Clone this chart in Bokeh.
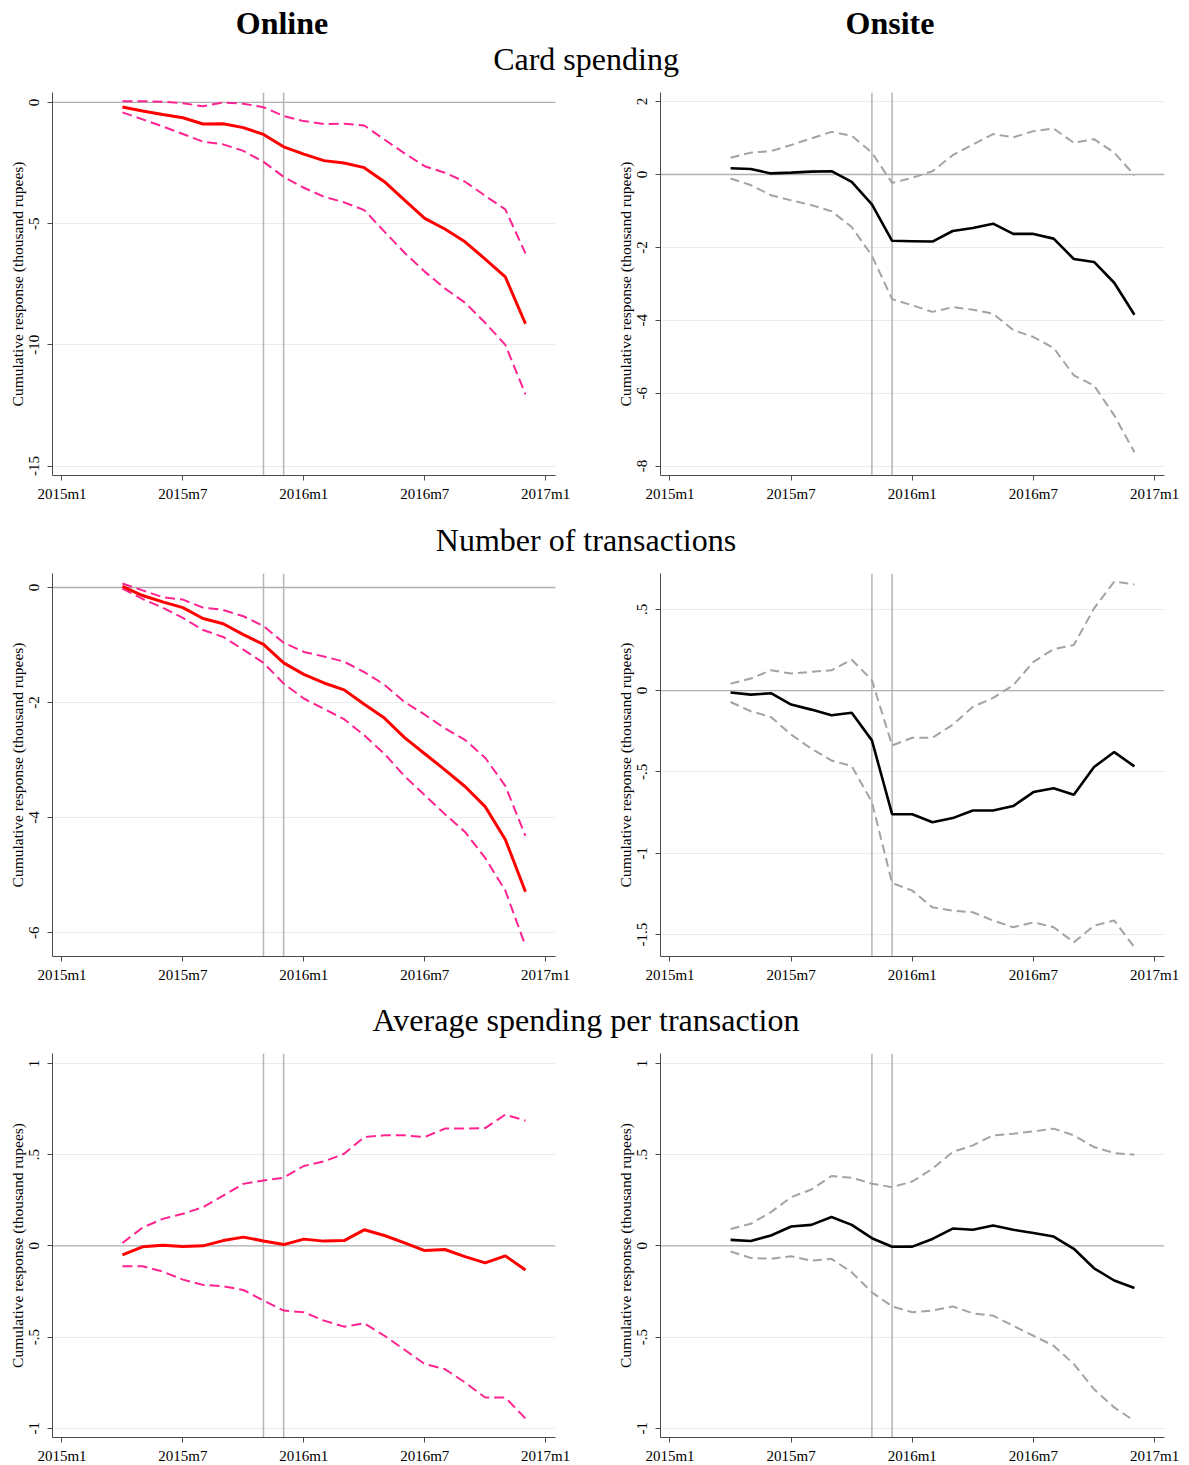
from bokeh.plotting import figure
from bokeh.models import Div, Span, FixedTicker, Range1d
from bokeh.layouts import column, row
from bokeh.embed import file_html
from bokeh.resources import INLINE

# ---------------- data ----------------
months = ["2015m4", "2015m5", "2015m6", "2015m7", "2015m8", "2015m9", "2015m10",
          "2015m11", "2015m12", "2016m1", "2016m2", "2016m3", "2016m4", "2016m5",
          "2016m6", "2016m7", "2016m8", "2016m9", "2016m10", "2016m11", "2016m12"]
event_months = ["2015m11", "2015m12"]
xtick_labels = ["2015m1", "2015m7", "2016m1", "2016m7", "2017m1"]

card_online_est = [-0.19, -0.35, -0.5, -0.63, -0.89, -0.88, -1.04, -1.32, -1.83, -2.13, -2.4,
                   -2.5, -2.69, -3.27, -4.03, -4.78, -5.22, -5.75, -6.46, -7.2, -9.13]
card_online_hi = [0.05, 0.05, 0.03, -0.03, -0.16, 0.0, -0.05, -0.2, -0.56, -0.77, -0.89,
                  -0.88, -0.95, -1.53, -2.1, -2.63, -2.9, -3.27, -3.85, -4.41, -6.23]
card_online_lo = [-0.41, -0.7, -0.99, -1.3, -1.62, -1.73, -2.0, -2.45, -3.07, -3.52, -3.89,
                  -4.12, -4.44, -5.33, -6.2, -6.98, -7.67, -8.26, -9.09, -10.0, -12.04]

card_onsite_est = [0.17, 0.15, 0.03, 0.05, 0.08, 0.09, -0.2, -0.82, -1.82, -1.83, -1.84,
                   -1.55, -1.47, -1.35, -1.63, -1.63, -1.76, -2.32, -2.4, -2.97, -3.85]
card_onsite_hi = [0.46, 0.6, 0.64, 0.81, 0.99, 1.17, 1.06, 0.6, -0.23, -0.09, 0.09,
                  0.53, 0.82, 1.11, 1.02, 1.19, 1.26, 0.87, 0.97, 0.6, -0.02]
card_onsite_lo = [-0.11, -0.29, -0.57, -0.71, -0.84, -1.01, -1.44, -2.23, -3.42, -3.59, -3.77,
                  -3.64, -3.71, -3.82, -4.27, -4.46, -4.76, -5.51, -5.79, -6.61, -7.62]

trans_online_est = [0.02, -0.14, -0.25, -0.35, -0.54, -0.63, -0.82, -0.99, -1.31, -1.51, -1.66,
                    -1.78, -2.03, -2.27, -2.61, -2.89, -3.17, -3.46, -3.81, -4.38, -5.29]
trans_online_hi = [0.07, -0.05, -0.17, -0.21, -0.35, -0.39, -0.5, -0.67, -0.96, -1.12, -1.2,
                   -1.29, -1.47, -1.69, -1.99, -2.21, -2.45, -2.65, -2.96, -3.45, -4.32]
trans_online_lo = [-0.02, -0.2, -0.35, -0.53, -0.74, -0.86, -1.08, -1.31, -1.67, -1.93, -2.11,
                   -2.29, -2.57, -2.89, -3.28, -3.61, -3.94, -4.25, -4.7, -5.27, -6.23]

trans_onsite_est = [-0.012, -0.025, -0.016, -0.086, -0.117, -0.152, -0.136, -0.306, -0.76, -0.76,
                    -0.81, -0.784, -0.737, -0.737, -0.71, -0.624, -0.6, -0.64, -0.47, -0.378, -0.466]
trans_onsite_hi = [0.043, 0.074, 0.125, 0.105, 0.115, 0.125, 0.19, 0.064, -0.337, -0.29,
                   -0.29, -0.21, -0.1, -0.045, 0.033, 0.177, 0.255, 0.28, 0.505, 0.67, 0.653]
trans_onsite_lo = [-0.07, -0.127, -0.162, -0.271, -0.357, -0.43, -0.464, -0.686, -1.183, -1.23,
                   -1.333, -1.353, -1.363, -1.414, -1.455, -1.425, -1.455, -1.548, -1.445, -1.414, -1.578]

avg_online_est = [-0.049, -0.005, 0.004, -0.004, 0.0, 0.029, 0.048, 0.027, 0.007, 0.037, 0.026,
                  0.029, 0.088, 0.057, 0.016, -0.026, -0.02, -0.059, -0.093, -0.055, -0.132]
avg_online_hi = [0.016, 0.1, 0.148, 0.176, 0.212, 0.276, 0.34, 0.359, 0.374, 0.438, 0.463,
                 0.505, 0.597, 0.606, 0.606, 0.597, 0.643, 0.643, 0.646, 0.72, 0.687]
avg_online_lo = [-0.112, -0.112, -0.141, -0.185, -0.214, -0.222, -0.242, -0.3, -0.355, -0.364, -0.41,
                 -0.443, -0.425, -0.493, -0.57, -0.648, -0.676, -0.749, -0.832, -0.832, -0.947]

avg_onsite_est = [0.033, 0.027, 0.057, 0.106, 0.115, 0.158, 0.115, 0.042, -0.005, -0.004, 0.038,
                  0.095, 0.088, 0.112, 0.088, 0.071, 0.051, -0.016, -0.123, -0.19, -0.231]
avg_onsite_hi = [0.093, 0.121, 0.185, 0.267, 0.309, 0.383, 0.374, 0.341, 0.322, 0.353, 0.423,
                 0.515, 0.551, 0.606, 0.615, 0.628, 0.643, 0.606, 0.542, 0.509, 0.5]
avg_onsite_lo = [-0.031, -0.066, -0.071, -0.057, -0.081, -0.071, -0.145, -0.255, -0.332, -0.364, -0.355,
                 -0.332, -0.37, -0.383, -0.438, -0.493, -0.548, -0.648, -0.786, -0.886, -0.96]

card_yticks = [-15, -10, -5, 0]
card_yticks_onsite = [-8, -6, -4, -2, 0, 2]
trans_yticks = [-6, -4, -2, 0]
trans_yticks_onsite = [-1.5, -1, -0.5, 0, 0.5]
trans_ylabels_onsite = ["-1.5", "-1", "-.5", "0", ".5"]
avg_yticks = [-1, -0.5, 0, 0.5, 1]
avg_ylabels = ["-1", "-.5", "0", ".5", "1"]

column_titles = ["Online", "Onsite"]
row_titles = ["Card spending", "Number of transactions", "Average spending per transaction"]
ylab = "Cumulative response (thousand rupees)"

# ---------------- helpers ----------------
FONT = "Liberation Serif"


def mnum(s):
    y, m = s.split("m")
    return (int(y) - 2015) * 12 + int(m) - 1


x = [mnum(s) for s in months]
xticks = [mnum(s) for s in xtick_labels]


def key(v):
    return int(v) if float(v).is_integer() else float(v)


def make_panel(est, lo, hi, yticks, ylabels, yr, online, width, height, bl, br, bt, bb):
    p = figure(width=width, height=height, output_backend="svg", toolbar_location=None,
               x_range=Range1d(-0.47, 24.49), y_range=Range1d(*yr),
               min_border_left=bl, min_border_right=br, min_border_top=bt, min_border_bottom=bb)
    p.outline_line_color = None
    p.background_fill_color = "white"
    p.border_fill_color = "white"
    p.xgrid.visible = False
    p.ygrid.grid_line_color = "#ececec"
    p.ygrid.grid_line_width = 1
    p.ygrid.ticker = FixedTicker(ticks=yticks)

    for ax in (p.xaxis[0], p.yaxis[0]):
        ax.axis_line_color = "#4a4a4a"
        ax.axis_line_width = 1
        ax.major_tick_line_color = "#4a4a4a"
        ax.major_tick_out = 5
        ax.major_tick_in = 0
        ax.minor_tick_line_color = None
        ax.major_label_text_font = FONT
        ax.major_label_text_font_size = "15px"
        ax.major_label_text_color = "black"

    xa = p.xaxis[0]
    xa.ticker = FixedTicker(ticks=xticks)
    xa.major_label_overrides = {k: lab for k, lab in zip(xticks, xtick_labels)}
    xa.major_label_standoff = 5

    ya = p.yaxis[0]
    ya.ticker = FixedTicker(ticks=yticks)
    ya.major_label_overrides = {key(k): lab for k, lab in zip(yticks, ylabels)}
    ya.major_label_orientation = "vertical"
    ya.major_label_standoff = 8
    ya.axis_label = ylab
    ya.axis_label_text_font = FONT
    ya.axis_label_text_font_size = "15.5px"
    ya.axis_label_text_font_style = "normal"
    ya.axis_label_text_color = "black"
    ya.axis_label_standoff = 1

    p.add_layout(Span(location=0, dimension="width", line_color="#b0b0b0",
                      line_width=1.3, level="underlay"))
    for ev in event_months:
        p.add_layout(Span(location=mnum(ev), dimension="height", line_color="#b5b5b5",
                          line_width=1.5, level="underlay"))

    if online:
        p.line(x, hi, line_color="#ff2291", line_width=2, line_dash="10 5")
        p.line(x, lo, line_color="#ff2291", line_width=2, line_dash="10 5")
        p.line(x, est, line_color="#ff0000", line_width=3)
    else:
        p.line(x, hi, line_color="#a3a3a3", line_width=2, line_dash="9 5")
        p.line(x, lo, line_color="#a3a3a3", line_width=2, line_dash="9 5")
        p.line(x, est, line_color="#000000", line_width=2.6)
    return p


def lbl(ticks):
    return [str(key(t)) for t in ticks]


rows_cfg = [
    dict(left=(card_online_est, card_online_lo, card_online_hi, card_yticks, lbl(card_yticks), (-15.39, 0.41)),
         right=(card_onsite_est, card_onsite_lo, card_onsite_hi, card_yticks_onsite, lbl(card_yticks_onsite), (-8.26, 2.25)),
         h=430, bt=12, bb=35),
    dict(left=(trans_online_est, trans_online_lo, trans_online_hi, trans_yticks, lbl(trans_yticks), (-6.415, 0.243)),
         right=(trans_onsite_est, trans_onsite_lo, trans_onsite_hi, trans_yticks_onsite, trans_ylabels_onsite, (-1.635, 0.72)),
         h=430, bt=13, bb=34),
    dict(left=(avg_online_est, avg_online_lo, avg_online_hi, avg_yticks, avg_ylabels, (-1.051, 1.055)),
         right=(avg_onsite_est, avg_onsite_lo, avg_onsite_hi, avg_yticks, avg_ylabels, (-1.051, 1.055)),
         h=430, bt=13, bb=33),
]


def title_div(height, items):
    inner = ""
    for (txt, cx, top, bold) in items:
        inner += ('<div style="position:absolute;left:%dpx;top:%dpx;transform:translateX(-50%%);'
                  'font-family:\'Liberation Serif\',serif;font-size:32px;line-height:32px;'
                  'white-space:nowrap;color:black;font-weight:%s;">%s</div>'
                  % (cx, top, "bold" if bold else "normal", txt))
    html = '<div style="position:relative;width:1189px;height:%dpx;">%s</div>' % (height, inner)
    return Div(text=html, width=1189, height=height, margin=0)


children = []
children.append(title_div(80, [(column_titles[0], 282, 7, True),
                               (column_titles[1], 890, 7, True),
                               (row_titles[0], 586, 43, False)]))
for i, cfg in enumerate(rows_cfg):
    if i > 0:
        children.append(title_div(50, [(row_titles[i], 586, 14, False)]))
    le, ll, lh, lt, llab, lyr = cfg["left"]
    re_, rl, rh, rt, rlab, ryr = cfg["right"]
    pl = make_panel(le, ll, lh, lt, llab, lyr, True, 605, cfg["h"], 52, 50, cfg["bt"], cfg["bb"])
    pr = make_panel(re_, rl, rh, rt, rlab, ryr, False, 584, cfg["h"], 55, 25, cfg["bt"], cfg["bb"])
    children.append(row(pl, pr, spacing=0))

layout = column(*children, spacing=0)
open("out.html", "w").write(file_html(layout, INLINE))
